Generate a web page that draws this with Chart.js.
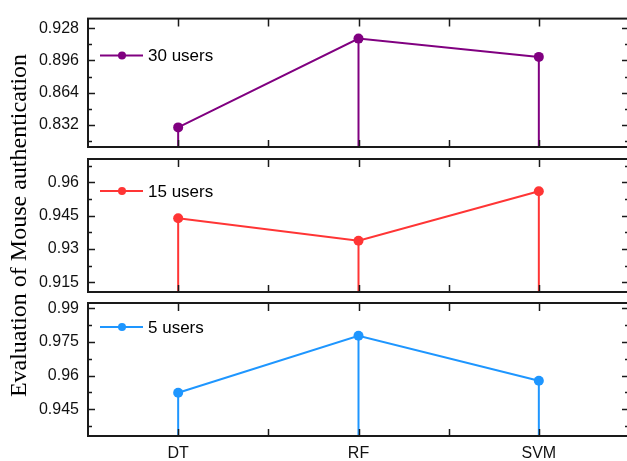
<!DOCTYPE html>
<html>
<head>
<meta charset="utf-8">
<script src="https://cdn.jsdelivr.net/npm/chart.js@4.4.0/dist/chart.umd.min.js"></script>
<style>
  html, body { margin: 0; padding: 0; overflow: hidden; background: #fff; width: 627px; height: 461px; }
  canvas { position: absolute; left: 0; top: 0; }
</style>
</head>
<body>
<canvas id="chart30" width="634" height="461"></canvas>
<canvas id="chart15" width="634" height="461"></canvas>
<canvas id="chart5" width="634" height="461"></canvas>
<script>
// categories and values
const categories = ['DT', 'RF', 'SVM'];
const users30 = [0.8294, 0.9177, 0.8995];
const users15 = [0.9438, 0.9337, 0.9560];
const users5 = [0.9524, 0.9778, 0.9577];

// y tick labels and axis ranges for each panel
const ticks30 = [0.832, 0.864, 0.896, 0.928];
const ticks15 = [0.915, 0.93, 0.945, 0.96];
const ticks5 = [0.945, 0.96, 0.975, 0.99];
const range30 = [0.8099, 0.9376];
const range15 = [0.9106, 0.9705];
const range5 = [0.9331, 0.9924];

const yTitle = 'Evaluation of Mouse authentication';

/**
 * Frame, inward ticks, drop lines and the in-panel legend
 */
const panelPlugin = {
  id: 'panel',
  beforeDatasetsDraw(chart) {
    const { ctx, chartArea } = chart;
    const ds = chart.data.datasets[0];
    const meta = chart.getDatasetMeta(0);
    ctx.save();
    ctx.strokeStyle = ds.borderColor;
    ctx.lineWidth = 2;
    meta.data.forEach(pt => {
      ctx.beginPath();
      ctx.moveTo(pt.x, pt.y);
      ctx.lineTo(pt.x, chartArea.bottom);
      ctx.stroke();
    });
    ctx.restore();
  },
  afterDraw(chart, args, opts) {
    const { ctx, chartArea: a, scales } = chart;
    const ys = scales.y, xs = scales.x;
    ctx.save();
    ctx.strokeStyle = '#1a1a1a';
    ctx.lineWidth = 2;
    ctx.strokeRect(a.left, a.top, a.right - a.left, a.bottom - a.top);

    // y ticks, left and right, pointing inwards
    ctx.lineWidth = 1.5;
    const tv = ys.ticks.map(t => t.value);
    const step = tv[1] - tv[0];
    const drawY = (v, len) => {
      const p = Math.round(ys.getPixelForValue(v)) + 0.5;
      if (p < a.top + 2 || p > a.bottom - 2) return;
      ctx.beginPath();
      ctx.moveTo(a.left, p); ctx.lineTo(a.left + len, p);
      ctx.moveTo(a.right, p); ctx.lineTo(a.right - len, p);
      ctx.stroke();
    };
    tv.forEach(v => drawY(v, 7));
    for (let v = tv[0] - step / 2; v <= ys.max; v += step) drawY(v, 4);

    // x ticks at every half category, top and bottom
    for (let i = 0; i <= categories.length - 1; i += 0.5) {
      const p = Math.round(xs.getPixelForValue(i)) + 0.5;
      ctx.beginPath();
      ctx.moveTo(p, a.top); ctx.lineTo(p, a.top + 8);
      ctx.moveTo(p, a.bottom); ctx.lineTo(p, a.bottom - 7);
      ctx.stroke();
    }

    // legend
    const ds = chart.data.datasets[0];
    const lx = a.left + 12, ly = a.top + opts.legendDy;
    ctx.strokeStyle = ds.borderColor;
    ctx.fillStyle = ds.borderColor;
    ctx.lineWidth = 2;
    ctx.beginPath();
    ctx.moveTo(lx, ly); ctx.lineTo(lx + 43, ly);
    ctx.stroke();
    ctx.beginPath();
    ctx.arc(lx + 22, ly, 4, 0, Math.PI * 2);
    ctx.fill();
    ctx.fillStyle = '#000';
    ctx.font = '17px "Liberation Sans", Arial, sans-serif';
    ctx.textBaseline = 'middle';
    ctx.fillText(ds.label, lx + 48, ly + 1);
    ctx.restore();
  }
};

function makePanel(id, label, values, tickVals, range, color, pad, legendDy, showX, title) {
  const ctx = document.getElementById(id).getContext('2d');
  return new Chart(ctx, {
    type: 'line',
    data: {
      labels: categories,
      datasets: [{
        label: label,
        data: values,
        borderColor: color,
        backgroundColor: color,
        borderWidth: 2,
        tension: 0,
        pointRadius: 5,
        pointBorderWidth: 0,
        pointBackgroundColor: color
      }]
    },
    options: {
      responsive: false,
      animation: false,
      layout: { padding: { top: pad[0], bottom: pad[1], left: 0, right: 1 } },
      plugins: {
        legend: { display: false },
        tooltip: { enabled: false },
        panel: { legendDy: legendDy }
      },
      scales: {
        x: {
          type: 'category',
          offset: true,
          display: showX,
          grid: { display: false, drawTicks: false },
          border: { display: false },
          ticks: { color: '#111', padding: 8, font: { size: 16, family: '"Liberation Sans", Arial, sans-serif' } },
          afterFit: s => { s.height = showX ? 25 : 0; }
        },
        y: {
          min: range[0],
          max: range[1],
          grid: { display: false, drawTicks: false },
          border: { display: false },
          afterBuildTicks: s => { s.ticks = tickVals.map(v => ({ value: v })); },
          ticks: {
            color: '#111',
            padding: 9,
            font: { size: 16, family: '"Liberation Sans", Arial, sans-serif' },
            callback: v => String(v)
          },
          title: {
            display: !!title,
            text: title || '',
            color: '#000',
            padding: { top: 5, bottom: 0 },
            font: { size: 24, family: '"Liberation Serif", "Times New Roman", serif' }
          },
          afterFit: s => { s.width = 88; }
        }
      }
    },
    plugins: [panelPlugin]
  });
}

makePanel('chart30', '30 users', users30, ticks30, range30, '#800080', [14, 314], 37, false, null);
makePanel('chart15', '15 users', users15, ticks15, range15, '#ff3535', [159, 169], 32, false, yTitle);
makePanel('chart5', '5 users', users5, ticks5, range5, '#1e96ff', [303, 0], 24, true, null);
</script>
</body>
</html>
